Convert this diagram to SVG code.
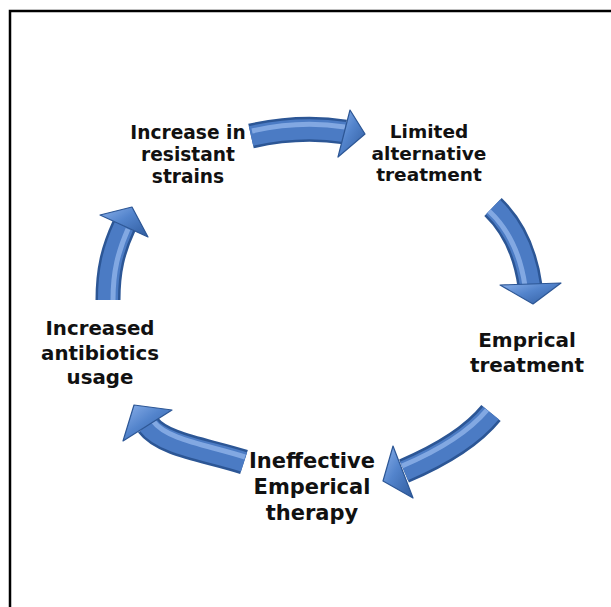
<svg xmlns="http://www.w3.org/2000/svg" width="611" height="607" viewBox="0 0 611 607">
  <defs>
    <linearGradient id="headFill" x1="0" y1="0" x2="1" y2="1">
      <stop offset="0" stop-color="#8cb1ea"/>
      <stop offset="0.45" stop-color="#5384cc"/>
      <stop offset="1" stop-color="#2f5b9e"/>
    </linearGradient>
  </defs>
  <style>
    .frame { fill: none; stroke: #000; stroke-width: 2.5; }
    .edge { fill: none; stroke: #2c5695; stroke-width: 25; stroke-linecap: butt; }
    .body { fill: none; stroke: #4b7bc4; stroke-width: 20; stroke-linecap: butt; }
    .shine { fill: none; stroke: #8cb0e8; stroke-width: 5; stroke-linecap: butt; opacity: 0.85; }
    .head { fill: url(#headFill); stroke: #2c5695; stroke-width: 1.2; stroke-linejoin: round; }
    .label { font-family: "DejaVu Sans", "Open Sans", sans-serif; font-weight: 700; fill: #111; text-anchor: middle; }
  </style>

  <rect x="0" y="0" width="611" height="607" fill="#fff"/>
  <!-- page frame (open on the right and bottom) -->
  <path class="frame" d="M10,607 V11 H611"/>

  <!-- cycle arrows -->
  <g id="connectors">
    <g id="arrow-top">
      <path class="edge" d="M251,136 Q300,125 345,132"/>
      <path class="body" d="M251,136 Q300,125 345,132"/>
      <path class="shine" d="M252,131 Q300,120 345,127"/>
      <polygon class="head" points="350,110 365,134 338,157"/>
    </g>
    <g id="arrow-right">
      <path class="edge" d="M493,207 Q523,236 530,286"/>
      <path class="body" d="M493,207 Q523,236 530,286"/>
      <path class="shine" d="M489,211 Q518,238 525,286"/>
      <polygon class="head" points="500,285 533,304 561,283"/>
    </g>
    <g id="arrow-lower-right">
      <path class="edge" d="M491,413 Q465,445 404,471"/>
      <path class="body" d="M491,413 Q465,445 404,471"/>
      <path class="shine" d="M487,410 Q461,441 402,466"/>
      <polygon class="head" points="393,446 383,481 413,498"/>
    </g>
    <g id="arrow-lower-left">
      <path class="edge" d="M244,462 C207,450 163,445 148,425"/>
      <path class="body" d="M244,462 C207,450 163,445 148,425"/>
      <path class="shine" d="M245,457 C208,445 167,440 153,421"/>
      <polygon class="head" points="172,410 134,405 123,441"/>
    </g>
    <g id="arrow-left">
      <path class="edge" d="M108,300 C108,270 113,250 124,226"/>
      <path class="body" d="M108,300 C108,270 113,250 124,226"/>
      <path class="shine" d="M113,300 C113,271 118,252 128,229"/>
      <polygon class="head" points="100,215 132,207 148,237"/>
    </g>
  </g>

  <!-- stage labels -->
  <g id="node-resistant">
    <text class="label" font-size="18.6" x="188" y="139">Increase in</text>
    <text class="label" font-size="18.6" x="188" y="161">resistant</text>
    <text class="label" font-size="18.6" x="188" y="183">strains</text>
  </g>
  <g id="node-limited">
    <text class="label" font-size="18.5" x="429" y="138">Limited</text>
    <text class="label" font-size="18.5" x="429" y="159.5">alternative</text>
    <text class="label" font-size="18.5" x="429" y="181">treatment</text>
  </g>
  <g id="node-emprical">
    <text class="label" font-size="20" x="527" y="347">Emprical</text>
    <text class="label" font-size="20" x="527" y="372">treatment</text>
  </g>
  <g id="node-ineffective">
    <text class="label" font-size="21" x="312" y="468">Ineffective</text>
    <text class="label" font-size="21" x="312" y="494">Emperical</text>
    <text class="label" font-size="21" x="312" y="520">therapy</text>
  </g>
  <g id="node-usage">
    <text class="label" font-size="19.8" x="100" y="335">Increased</text>
    <text class="label" font-size="19.8" x="100" y="359.5">antibiotics</text>
    <text class="label" font-size="19.8" x="100" y="384">usage</text>
  </g>
</svg>
